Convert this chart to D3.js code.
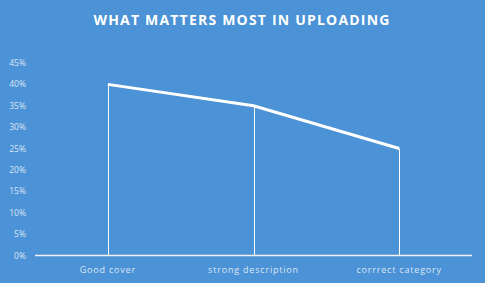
<!DOCTYPE html>
<html>
<head>
<meta charset="utf-8" />
<script src="https://cdn.jsdelivr.net/npm/d3@7"></script>
<style>
    body { margin: 0; background: #4b92d6; }
    text { font-family: "Open Sans", sans-serif; }
</style>
</head>
<body>
<script>
    var categories = ["Good cover", "strong description", "corrrect category"];
    var values = [0.40, 0.35, 0.25];
    var yTicks = [0, 0.05, 0.10, 0.15, 0.20, 0.25, 0.30, 0.35, 0.40, 0.45];

    var svgWidth = 485, svgHeight = 283;
    var margin = {top: 63, right: 13, bottom: 27, left: 35};

    var svg = d3.select("body").append("svg")
        .attr("width", svgWidth)
        .attr("height", svgHeight);

    svg.append("rect").attr("width", svgWidth).attr("height", svgHeight).attr("fill", "#4b92d6");

    var x = d3.scaleBand().domain(categories)
        .range([margin.left, svgWidth - margin.right]);
    var y = d3.scaleLinear().domain([0, 0.45])
        .range([svgHeight - margin.bottom - 0.5, margin.top]);

    svg.append("text")
        .attr("x", 242).attr("y", 25)
        .attr("text-anchor", "middle")
        .attr("fill", "#fff")
        .attr("font-size", 14)
        .attr("font-weight", "bold")
        .attr("letter-spacing", 1.2)
        .text("WHAT MATTERS MOST IN UPLOADING");

    // y tick labels
    svg.append("g").selectAll("text").data(yTicks).enter().append("text")
        .attr("x", 26)
        .attr("y", function(d) { return y(d) + 3; })
        .attr("text-anchor", "end")
        .attr("fill", "#dbe6f4")
        .attr("font-size", 8.5)
        .text(d3.format(".0%"));

    // baseline
    svg.append("line")
        .attr("x1", margin.left).attr("x2", svgWidth - margin.right)
        .attr("y1", y(0)).attr("y2", y(0))
        .attr("stroke", "#f2f2f2").attr("stroke-width", 1.5);

    // drop lines
    svg.append("g").selectAll("line").data(values).enter().append("line")
        .attr("x1", function(d, i) { return Math.round(x(categories[i]) + x.bandwidth() / 2) + 0.5; })
        .attr("x2", function(d, i) { return Math.round(x(categories[i]) + x.bandwidth() / 2) + 0.5; })
        .attr("y1", function(d) { return y(d); })
        .attr("y2", y(0))
        .attr("stroke", "#fff").attr("stroke-width", 1);

    var line = d3.line()
        .x(function(d, i) { return x(categories[i]) + x.bandwidth() / 2; })
        .y(function(d) { return y(d); });

    svg.append("path").datum(values)
        .attr("d", line)
        .attr("fill", "none")
        .attr("stroke", "#fff")
        .attr("stroke-width", 3);

    // category labels
    svg.append("g").selectAll("text").data(categories).enter().append("text")
        .attr("x", function(d) { return x(d) + x.bandwidth() / 2; })
        .attr("y", 273)
        .attr("text-anchor", "middle")
        .attr("fill", "#dbe6f4")
        .attr("font-size", 9)
        .attr("letter-spacing", 0.8)
        .text(function(d) { return d; });
</script>
</body>
</html>
